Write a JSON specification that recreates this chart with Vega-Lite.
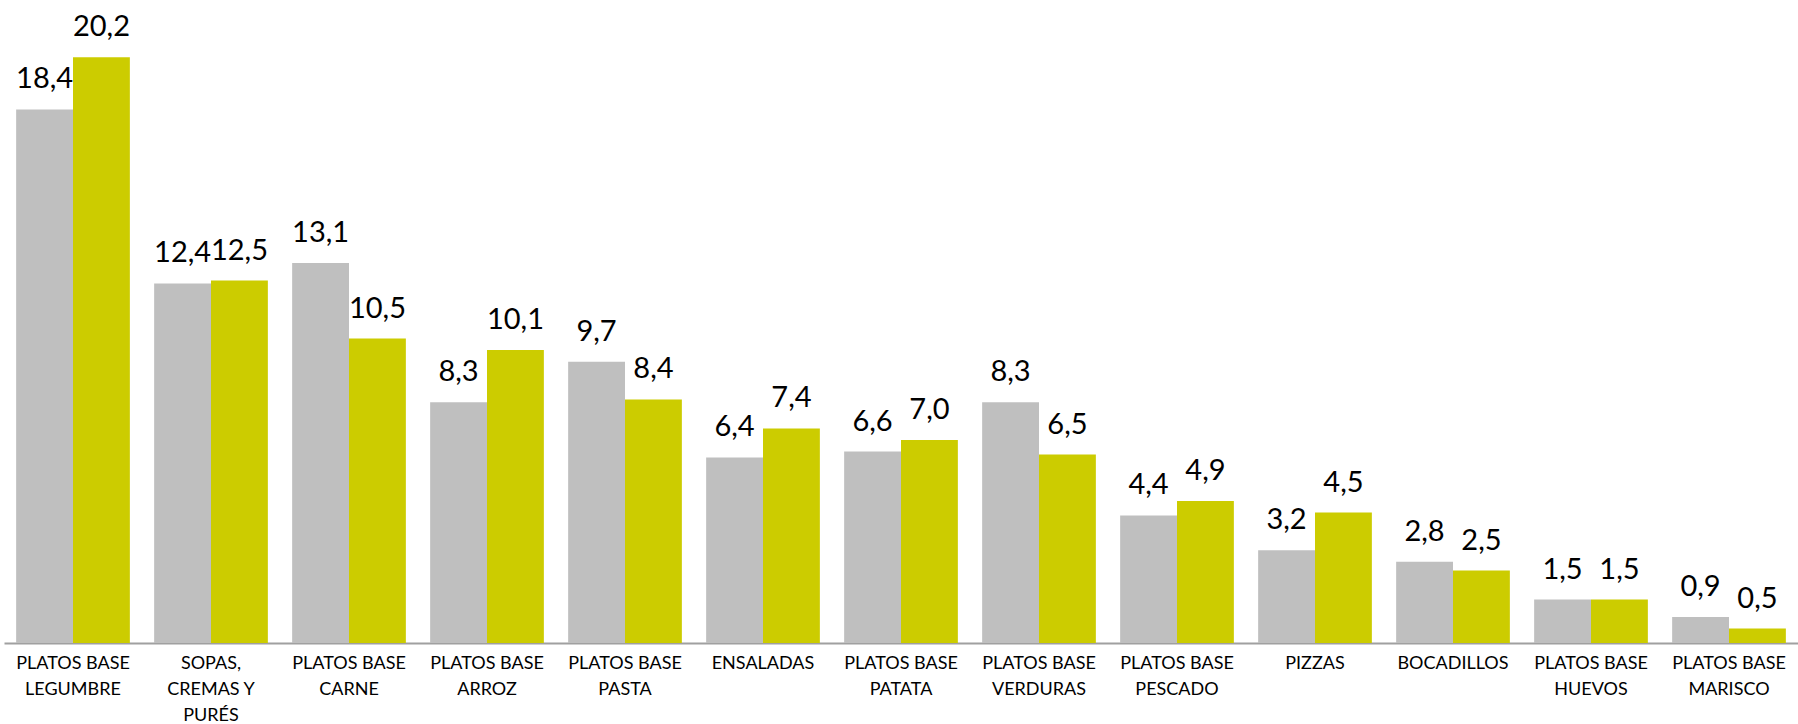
{
  "$schema": "https://vega.github.io/schema/vega-lite/v6.json",
  "autosize": "none",
  "padding": {"left": 4, "top": 5, "right": 0, "bottom": 81},
  "width": 1794,
  "height": 638,
  "config": {
    "view": {"stroke": null},
    "locale": {"number": {"decimal": ",", "thousands": ".", "grouping": [3], "currency": ["", " €"]}}
  },
  "data": {
    "values": [
      {"cat": "PLATOS BASE|LEGUMBRE", "serie": "Serie 1", "valor": 18.4},
      {"cat": "PLATOS BASE|LEGUMBRE", "serie": "Serie 2", "valor": 20.2},
      {"cat": "SOPAS,|CREMAS Y|PURÉS", "serie": "Serie 1", "valor": 12.4},
      {"cat": "SOPAS,|CREMAS Y|PURÉS", "serie": "Serie 2", "valor": 12.5},
      {"cat": "PLATOS BASE|CARNE", "serie": "Serie 1", "valor": 13.1},
      {"cat": "PLATOS BASE|CARNE", "serie": "Serie 2", "valor": 10.5},
      {"cat": "PLATOS BASE|ARROZ", "serie": "Serie 1", "valor": 8.3},
      {"cat": "PLATOS BASE|ARROZ", "serie": "Serie 2", "valor": 10.1},
      {"cat": "PLATOS BASE|PASTA", "serie": "Serie 1", "valor": 9.7},
      {"cat": "PLATOS BASE|PASTA", "serie": "Serie 2", "valor": 8.4},
      {"cat": "ENSALADAS", "serie": "Serie 1", "valor": 6.4},
      {"cat": "ENSALADAS", "serie": "Serie 2", "valor": 7.4},
      {"cat": "PLATOS BASE|PATATA", "serie": "Serie 1", "valor": 6.6},
      {"cat": "PLATOS BASE|PATATA", "serie": "Serie 2", "valor": 7.0},
      {"cat": "PLATOS BASE|VERDURAS", "serie": "Serie 1", "valor": 8.3},
      {"cat": "PLATOS BASE|VERDURAS", "serie": "Serie 2", "valor": 6.5},
      {"cat": "PLATOS BASE|PESCADO", "serie": "Serie 1", "valor": 4.4},
      {"cat": "PLATOS BASE|PESCADO", "serie": "Serie 2", "valor": 4.9},
      {"cat": "PIZZAS", "serie": "Serie 1", "valor": 3.2},
      {"cat": "PIZZAS", "serie": "Serie 2", "valor": 4.5},
      {"cat": "BOCADILLOS", "serie": "Serie 1", "valor": 2.8},
      {"cat": "BOCADILLOS", "serie": "Serie 2", "valor": 2.5},
      {"cat": "PLATOS BASE|HUEVOS", "serie": "Serie 1", "valor": 1.5},
      {"cat": "PLATOS BASE|HUEVOS", "serie": "Serie 2", "valor": 1.5},
      {"cat": "PLATOS BASE|MARISCO", "serie": "Serie 1", "valor": 0.9},
      {"cat": "PLATOS BASE|MARISCO", "serie": "Serie 2", "valor": 0.5}
    ]
  },
  "encoding": {
    "x": {
      "field": "cat", "type": "nominal", "sort": null, "title": null,
      "scale": {"paddingInner": 0.176, "paddingOuter": 0.088},
      "axis": {
        "labelExpr": "split(datum.label, '|')",
        "labelAngle": 0, "ticks": false, "domain": true,
        "domainColor": "#a0a0a0", "domainWidth": 2,
        "labelFont": "Lato", "labelFontSize": 18, "labelColor": "#000000",
        "labelPadding": 11, "labelLineHeight": 26, "labelLimit": 0,
        "labelBaseline": "top"
      }
    },
    "xOffset": {"field": "serie", "type": "nominal", "scale": {"paddingInner": 0, "paddingOuter": 0}},
    "y": {"field": "valor", "type": "quantitative", "scale": {"domain": [0, 22], "nice": false}, "axis": null}
  },
  "layer": [
    {
      "mark": {"type": "bar"},
      "encoding": {
        "color": {"field": "serie", "type": "nominal", "legend": null,
          "scale": {"domain": ["Serie 1", "Serie 2"], "range": ["#bfbfbf", "#cccc00"]}}
      }
    },
    {
      "mark": {"type": "text", "font": "Lato", "fontSize": 29, "baseline": "alphabetic", "dy": -21, "color": "#000000"},
      "encoding": {
        "text": {"field": "valor", "type": "quantitative", "format": ".1f"}
      }
    }
  ]
}
